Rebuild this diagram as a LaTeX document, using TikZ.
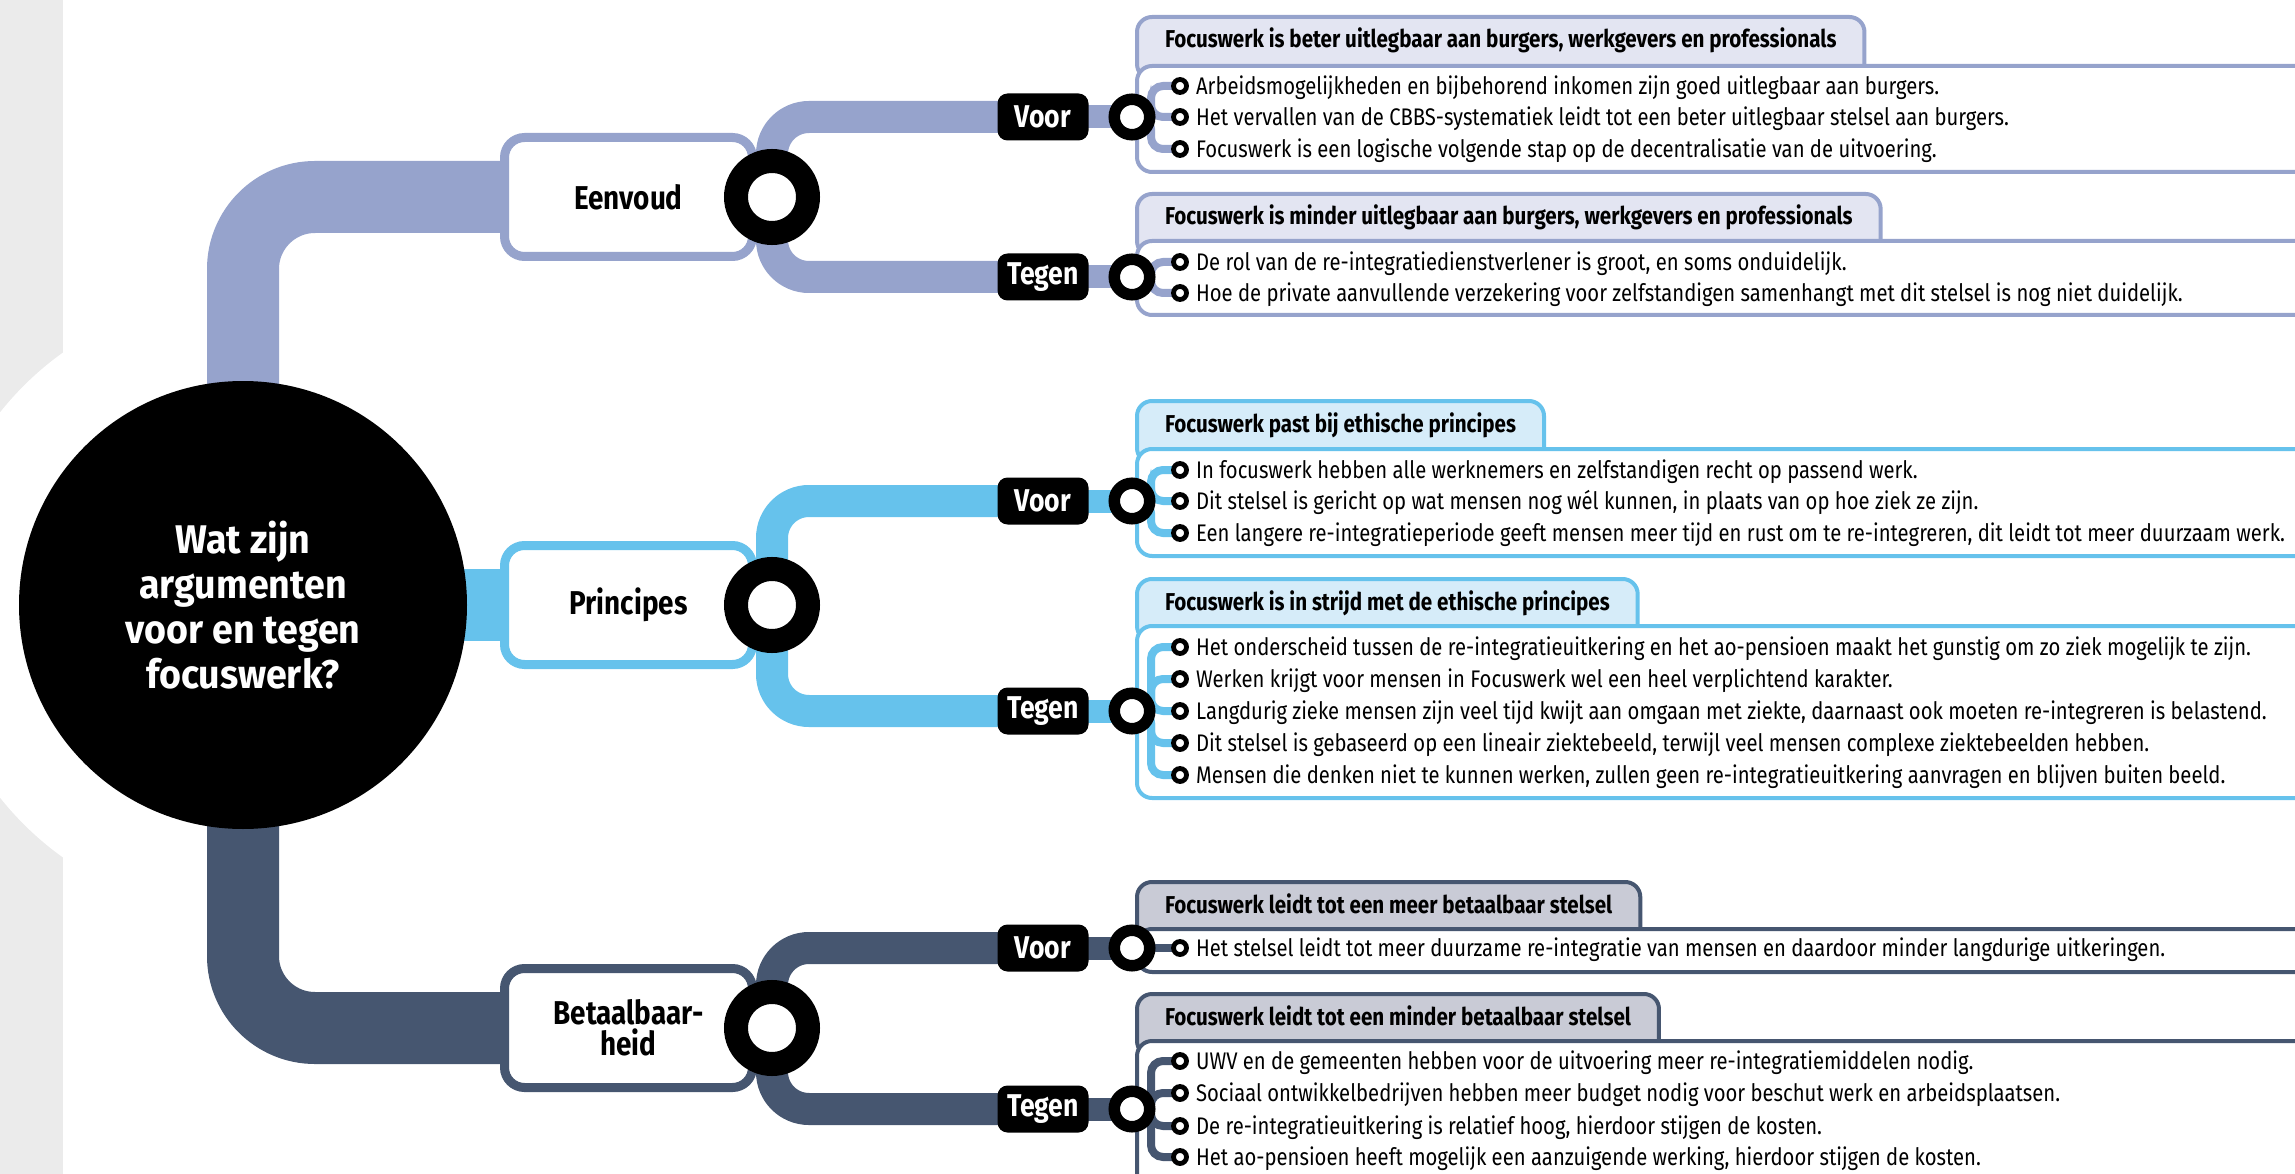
\documentclass[tikz,border=0pt]{standalone}
\usepackage{fontspec}
\setmainfont[FakeStretch=0.844]{Fira Sans}
\newfontfamily\vraagfamilie[FakeStretch=0.94]{Fira Sans}
\usetikzlibrary{positioning}

\definecolor{eenv}{RGB}{150,163,204}
\definecolor{eenvlicht}{RGB}{227,229,242}
\definecolor{princ}{RGB}{102,194,236}
\definecolor{princlicht}{RGB}{214,236,249}
\definecolor{bet}{RGB}{70,86,112}
\definecolor{betlicht}{RGB}{201,203,214}
\definecolor{strookgrijs}{RGB}{235,235,235}

\newcommand{\regelfont}{\fontsize{24}{30}\selectfont}
\newcommand{\kopfont}{\fontsize{24.4}{28}\selectfont\bfseries}
\newcommand{\etiketfont}{\fontsize{31.5}{36}\selectfont\bfseries}
\newcommand{\onderwerpfont}{\fontsize{33}{31}\selectfont\bfseries}
\newcommand{\vraagfont}{\vraagfamilie\fontsize{40}{45}\selectfont\bfseries}

\pgfdeclarelayer{bg}
\pgfdeclarelayer{stam}
\pgfdeclarelayer{bak}
\pgfdeclarelayer{takjes}
\pgfsetlayers{bg,stam,bak,takjes,main}

\tikzset{
  vraag/.style={circle, fill=black, text=white, minimum size=448, inner sep=0, align=center, font=\vraagfont},
  onderwerp/.style={draw=#1, fill=white, line width=9, rounded corners=20, minimum width=248, minimum height=119, align=center, font=\onderwerpfont},
  ring/.style={circle, draw=black, fill=white, line width=24, minimum size=72, inner sep=0},
  kleinring/.style={circle, draw=black, fill=white, line width=11.5, minimum size=35.5, inner sep=0},
  bolletje/.style={circle, draw=black, fill=white, line width=4.8, minimum size=13, inner sep=0},
  etiket/.style={fill=black, text=white, rounded corners=10, minimum width=91, minimum height=47, inner sep=0, font=\etiketfont},
  kop/.style={draw=#1, fill=#1licht, line width=4, rounded corners=15, anchor=north west, inner xsep=28, inner ysep=0, text height=31, text depth=31, font=\kopfont},
  vak/.style={draw=#1, fill=white, line width=4, rounded corners=15, anchor=north west, minimum width=1250, inner sep=0},
  regel/.style={anchor=base west, yshift=-8.3pt, inner sep=0, font=\regelfont},
  stam/.style={draw=#1, line width=72, rounded corners=72},
  tak/.style={draw=#1, line width=32, rounded corners=37},
  steel/.style={draw=#1, line width=23},
  takje/.style={draw=#1, line width=8, rounded corners=12}
}

\begin{document}
\begin{tikzpicture}[x=1pt, y=-1pt]
  \useasboundingbox (0,0) rectangle (2295,1174);

  % midden
  \node[vraag] (vraag) at (243,605) {Wat zijn\\argumenten\\voor en tegen\\focuswerk?};
  \node[onderwerp=eenv] (eenvoud) at (628.5,197) {Eenvoud};
  \node[onderwerp=princ] (principes) at (628.5,605) {Principes};
  \node[onderwerp=bet] (betaalbaar) at (628.5,1028) {Betaalbaar-\\heid};
  \node[ring] (eenvring) at (772,197) {};
  \node[ring] (princring) at (772,605) {};
  \node[ring] (betring) at (772,1028) {};

  % voor en tegen
  \node[etiket] (eenvvoor) at (1043,117) {Voor};
  \node[etiket] (eenvtegen) at (1043,277) {Tegen};
  \node[etiket] (princvoor) at (1043,501) {Voor};
  \node[etiket] (princtegen) at (1043,711) {Tegen};
  \node[etiket] (betvoor) at (1043,948) {Voor};
  \node[etiket] (bettegen) at (1043,1109) {Tegen};

  % kaders
  \begin{pgfonlayer}{bak}
    \node[kop=eenv] (evkop) at (1135,15) {Focuswerk is beter uitlegbaar aan burgers, werkgevers en professionals};
    \node[vak=eenv, minimum height=106] (evvak) at (1135,64) {};
    \node[kop=eenv] (etkop) at (1135,192) {Focuswerk is minder uitlegbaar aan burgers, werkgevers en professionals};
    \node[vak=eenv, minimum height=74] (etvak) at (1135,239) {};
    \node[kop=princ] (pvkop) at (1135,399) {Focuswerk past bij ethische principes};
    \node[vak=princ, minimum height=107] (pvvak) at (1135,447) {};
    \node[kop=princ] (ptkop) at (1135,577) {Focuswerk is in strijd met de ethische principes};
    \node[vak=princ, minimum height=172] (ptvak) at (1135,624) {};
    \node[kop=bet] (bvkop) at (1135,880) {Focuswerk leidt tot een meer betaalbaar stelsel};
    \node[vak=bet, minimum height=43] (bvvak) at (1135,927) {};
    \node[kop=bet] (btkop) at (1135,992) {Focuswerk leidt tot een minder betaalbaar stelsel};
    \node[vak=bet, minimum height=146] (btvak) at (1135,1039) {};
  \end{pgfonlayer}

  \node[kleinring] (evring) at (1132,117) {};
  \node[kleinring] (etring) at (1132,277) {};
  \node[kleinring] (pvring) at (1132,501) {};
  \node[kleinring] (ptring) at (1132,711) {};
  \node[kleinring] (bvring) at (1132,948) {};
  \node[kleinring] (btring) at (1132,1109) {};

  % argumenten
  \node[bolletje] (ev1) at (1180,86) {};
  \node[bolletje] (ev2) at (1180,117) {};
  \node[bolletje] (ev3) at (1180,149) {};
  \node[right=7pt of ev1, regel] (ev1t) {Arbeidsmogelijkheden en bijbehorend inkomen zijn goed uitlegbaar aan burgers.};
  \node[right=7pt of ev2, regel] (ev2t) {Het vervallen van de CBBS-systematiek leidt tot een beter uitlegbaar stelsel aan burgers.};
  \node[right=7pt of ev3, regel] (ev3t) {Focuswerk is een logische volgende stap op de decentralisatie van de uitvoering.};

  \node[bolletje] (et1) at (1180,262) {};
  \node[bolletje] (et2) at (1180,293) {};
  \node[right=7pt of et1, regel] (et1t) {De rol van de re-integratiedienstverlener is groot, en soms onduidelijk.};
  \node[right=7pt of et2, regel] (et2t) {Hoe de private aanvullende verzekering voor zelfstandigen samenhangt met dit stelsel is nog niet duidelijk.};

  \node[bolletje] (pv1) at (1180,470) {};
  \node[bolletje] (pv2) at (1180,501) {};
  \node[bolletje] (pv3) at (1180,533) {};
  \node[right=7pt of pv1, regel] (pv1t) {In focuswerk hebben alle werknemers en zelfstandigen recht op passend werk.};
  \node[right=7pt of pv2, regel] (pv2t) {Dit stelsel is gericht op wat mensen nog wél kunnen, in plaats van op hoe ziek ze zijn.};
  \node[right=7pt of pv3, regel] (pv3t) {Een langere re-integratieperiode geeft mensen meer tijd en rust om te re-integreren, dit leidt tot meer duurzaam werk.};

  \node[bolletje] (pt1) at (1180,647) {};
  \node[bolletje] (pt2) at (1180,679) {};
  \node[bolletje] (pt3) at (1180,711) {};
  \node[bolletje] (pt4) at (1180,743) {};
  \node[bolletje] (pt5) at (1180,775) {};
  \node[right=7pt of pt1, regel] (pt1t) {Het onderscheid tussen de re-integratieuitkering en het ao-pensioen maakt het gunstig om zo ziek mogelijk te zijn.};
  \node[right=7pt of pt2, regel] (pt2t) {Werken krijgt voor mensen in Focuswerk wel een heel verplichtend karakter.};
  \node[right=7pt of pt3, regel] (pt3t) {Langdurig zieke mensen zijn veel tijd kwijt aan omgaan met ziekte, daarnaast ook moeten re-integreren is belastend.};
  \node[right=7pt of pt4, regel] (pt4t) {Dit stelsel is gebaseerd op een lineair ziektebeeld, terwijl veel mensen complexe ziektebeelden hebben.};
  \node[right=7pt of pt5, regel] (pt5t) {Mensen die denken niet te kunnen werken, zullen geen re-integratieuitkering aanvragen en blijven buiten beeld.};

  \node[bolletje] (bv1) at (1180,948) {};
  \node[right=7pt of bv1, regel] (bv1t) {Het stelsel leidt tot meer duurzame re-integratie van mensen en daardoor minder langdurige uitkeringen.};

  \node[bolletje] (bt1) at (1180,1061) {};
  \node[bolletje] (bt2) at (1180,1093) {};
  \node[bolletje] (bt3) at (1180,1126) {};
  \node[bolletje] (bt4) at (1180,1157) {};
  \node[right=7pt of bt1, regel] (bt1t) {UWV en de gemeenten hebben voor de uitvoering meer re-integratiemiddelen nodig.};
  \node[right=7pt of bt2, regel] (bt2t) {Sociaal ontwikkelbedrijven hebben meer budget nodig voor beschut werk en arbeidsplaatsen.};
  \node[right=7pt of bt3, regel] (bt3t) {De re-integratieuitkering is relatief hoog, hierdoor stijgen de kosten.};
  \node[right=7pt of bt4, regel] (bt4t) {Het ao-pensioen heeft mogelijk een aanzuigende werking, hierdoor stijgen de kosten.};

  % achtergrond
  \begin{pgfonlayer}{bg}
    \fill[strookgrijs] (0,0) rectangle (63,1174);
    \fill[white] (vraag.center) circle (310);
  \end{pgfonlayer}

  % verbindingen
  \begin{pgfonlayer}{stam}
    \draw[stam=eenv] (vraag.center) |- (eenvoud.west);
    \draw[stam=princ] (vraag.center) -- (principes.west);
    \draw[stam=bet] (vraag.center) |- (betaalbaar.west);
    \draw[tak=eenv] (eenvring.center) |- (eenvvoor.center);
    \draw[tak=eenv] (eenvring.center) |- (eenvtegen.center);
    \draw[tak=princ] (princring.center) |- (princvoor.center);
    \draw[tak=princ] (princring.center) |- (princtegen.center);
    \draw[tak=bet] (betring.center) |- (betvoor.center);
    \draw[tak=bet] (betring.center) |- (bettegen.center);
    \draw[steel=eenv] (eenvvoor.center) -- (evring.center);
    \draw[steel=eenv] (eenvtegen.center) -- (etring.center);
    \draw[steel=princ] (princvoor.center) -- (pvring.center);
    \draw[steel=princ] (princtegen.center) -- (ptring.center);
    \draw[steel=bet] (betvoor.center) -- (bvring.center);
    \draw[steel=bet] (bettegen.center) -- (btring.center);
  \end{pgfonlayer}

  \begin{pgfonlayer}{takjes}
    \foreach \b in {ev1,ev2,ev3} \draw[takje=eenv] (evring.center) -- ++(19,0) |- (\b.center);
    \foreach \b in {et1,et2} \draw[takje=eenv] (etring.center) -- ++(19,0) |- (\b.center);
    \foreach \b in {pv1,pv2,pv3} \draw[takje=princ] (pvring.center) -- ++(19,0) |- (\b.center);
    \foreach \b in {pt1,pt2,pt3,pt4,pt5} \draw[takje=princ] (ptring.center) -- ++(19,0) |- (\b.center);
    \draw[takje=bet] (bvring.center) -- (bv1.center);
    \foreach \b in {bt1,bt2,bt3,bt4} \draw[takje=bet] (btring.center) -- ++(19,0) |- (\b.center);
  \end{pgfonlayer}
\end{tikzpicture}
\end{document}
